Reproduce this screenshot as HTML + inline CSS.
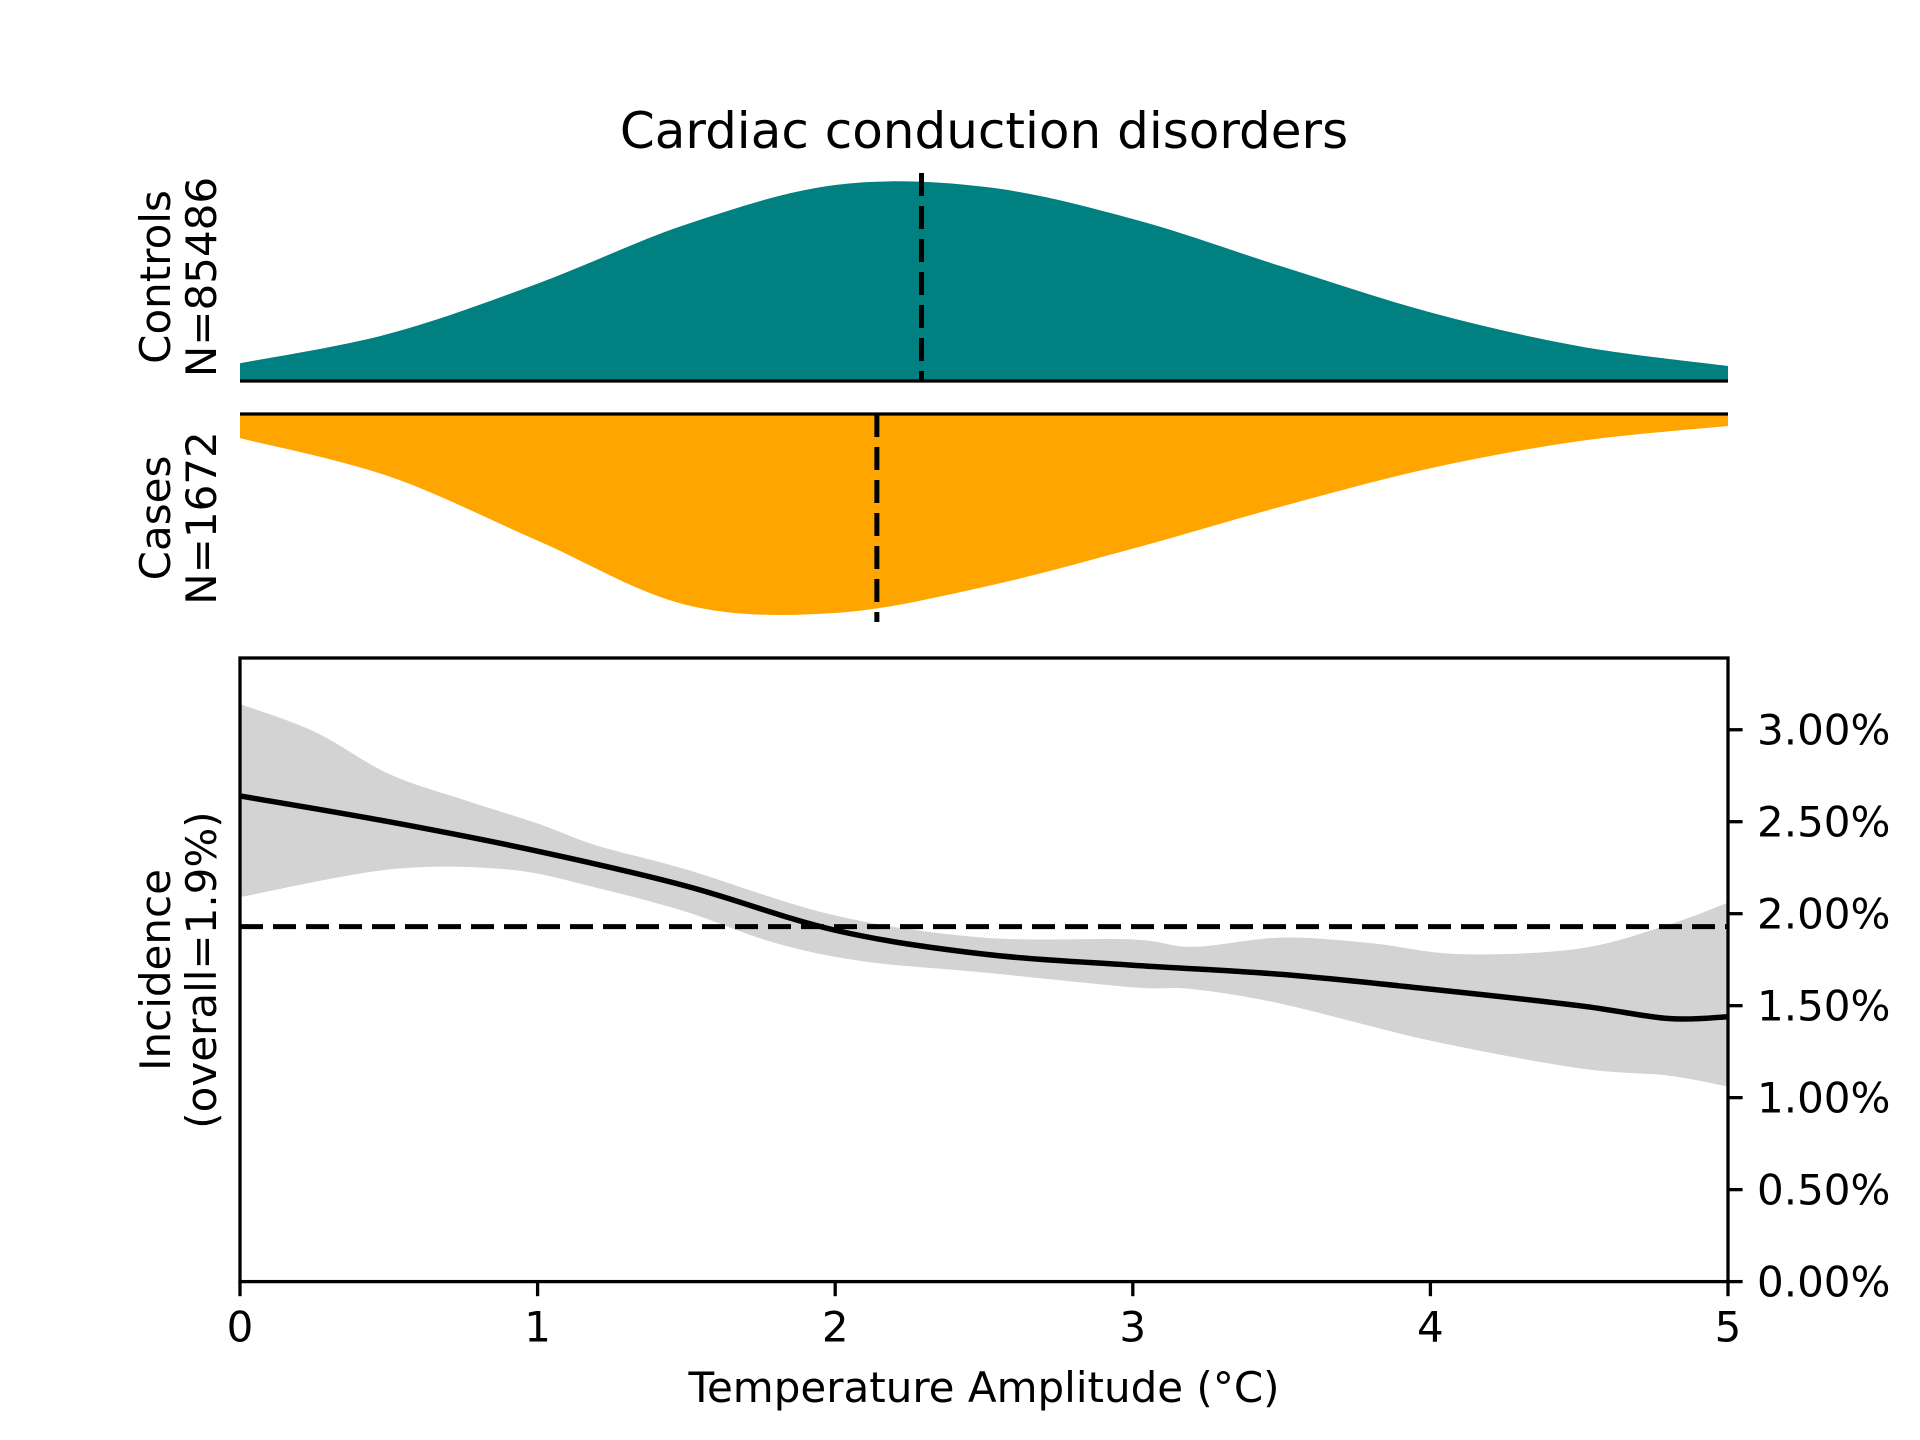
<!DOCTYPE html>
<html><head><meta charset="utf-8"><style>
html,body{margin:0;padding:0;background:#fff;}
svg{display:block;font-family:"DejaVu Sans","Liberation Sans",sans-serif;}
</style></head><body>
<svg id="fig" width="1920" height="1440" viewBox="0 0 1920 1440">
<rect width="1920" height="1440" fill="#fff"/>
<text x="984" y="148" font-size="50" text-anchor="middle">Cardiac conduction disorders</text>
<g id="gtop"></g>
<g id="gmid"></g>
<g id="gbot"></g>
<text transform="translate(170,277) rotate(-90)" font-size="42" text-anchor="middle">Controls</text>
<text transform="translate(216,277) rotate(-90)" font-size="42" text-anchor="middle">N=85486</text>
<text transform="translate(170,518) rotate(-90)" font-size="42" text-anchor="middle">Cases</text>
<text transform="translate(216,518) rotate(-90)" font-size="42" text-anchor="middle">N=1672</text>
<text transform="translate(170,970) rotate(-90)" font-size="42" text-anchor="middle">Incidence</text>
<text transform="translate(216,970) rotate(-90)" font-size="42" text-anchor="middle">(overall=1.9%)</text>
<text x="984" y="1402" font-size="42" text-anchor="middle">Temperature Amplitude (°C)</text>
</svg>
<script>
const densX = [0,0.5,1,1.5,2,2.5,3,3.5,4,4.5,5];
const controlsDens = [0.089,0.236,0.487,0.783,0.980,0.971,0.810,0.573,0.343,0.174,0.075];
const casesDens = [0.12,0.31,0.63,0.95,0.99,0.86,0.67,0.46,0.27,0.135,0.06];
const controlsMean = 2.29;
const casesMean = 2.14;
const lineX = [0,0.5,1,1.5,2,2.5,3,3.5,4,4.5,4.8,5];
const lineY = [2.64,2.50,2.34,2.15,1.91,1.78,1.72,1.67,1.59,1.50,1.43,1.44];
const upX = [0,0.25,0.5,0.75,1.0,1.2,1.5,2,2.5,3,3.2,3.5,3.8,4.1,4.5,4.8,5];
const upY = [3.14,2.99,2.76,2.62,2.49,2.37,2.24,1.99,1.87,1.86,1.82,1.87,1.84,1.78,1.81,1.94,2.06];
const loX = [0,0.5,0.9,1.2,1.5,1.8,2.1,2.5,3,3.2,3.5,4,4.5,4.8,5];
const loY = [2.09,2.24,2.24,2.14,2.01,1.84,1.74,1.68,1.60,1.59,1.51,1.31,1.16,1.12,1.06];
const overall = 1.93;
const yTicks = [0,0.5,1,1.5,2,2.5,3];
const yTickLabels = ["0.00%","0.50%","1.00%","1.50%","2.00%","2.50%","3.00%"];
const xTicks = [0,1,2,3,4,5];
const xTickLabels = ["0","1","2","3","4","5"];

const NS='http://www.w3.org/2000/svg';
const L=240,R=1728;
const sx=v=>L+(v/5)*(R-L);
const topBase=381, topTop=181;
const midBase=414, midBot=615;
const botT=658, botB=1281.6, yMax=3.39;
const sy=v=>botB-(v/yMax)*(botB-botT);
function mk(tag,attrs,parent){const e=document.createElementNS(NS,tag);for(const k in attrs)e.setAttribute(k,attrs[k]);parent.appendChild(e);return e;}
function smooth(pts){let d='M'+pts[0][0]+','+pts[0][1];for(let i=0;i<pts.length-1;i++){const p0=pts[Math.max(0,i-1)],p1=pts[i],p2=pts[i+1],p3=pts[Math.min(pts.length-1,i+2)];
const c1=[p1[0]+(p2[0]-p0[0])/6,p1[1]+(p2[1]-p0[1])/6],c2=[p2[0]-(p3[0]-p1[0])/6,p2[1]-(p3[1]-p1[1])/6];
d+=' C'+c1[0]+','+c1[1]+' '+c2[0]+','+c2[1]+' '+p2[0]+','+p2[1];}return d;}
const gTop=document.getElementById('gtop'),gMid=document.getElementById('gmid'),gBot=document.getElementById('gbot');
const cp=densX.map((x,i)=>[sx(x),topBase-controlsDens[i]*(topBase-topTop)]);
let e=mk('path',{d:smooth(cp)+' L'+sx(5)+','+topBase+' L'+sx(0)+','+topBase+' Z',fill:'#008080'},gTop);


e=mk('line',{x1:L,x2:R,y1:topBase,y2:topBase,stroke:'#000','stroke-width':3.3},gTop);


e=mk('line',{x1:sx(controlsMean),x2:sx(controlsMean),y1:173,y2:topBase,stroke:'#000','stroke-width':5,'stroke-dasharray':'23,10'},gTop);


const kp=densX.map((x,i)=>[sx(x),midBase+casesDens[i]*(midBot-midBase)]);
e=mk('path',{d:smooth(kp)+' L'+sx(5)+','+midBase+' L'+sx(0)+','+midBase+' Z',fill:'#FFA500'},gMid);


e=mk('line',{x1:L,x2:R,y1:midBase,y2:midBase,stroke:'#000','stroke-width':3.3},gMid);


e=mk('line',{x1:sx(casesMean),x2:sx(casesMean),y1:midBase,y2:622,stroke:'#000','stroke-width':5,'stroke-dasharray':'23,10'},gMid);


const up=upX.map((x,i)=>[sx(x),sy(upY[i])]);
const lo=loX.map((x,i)=>[sx(x),sy(loY[i])]).reverse();
const loPath=smooth(lo).replace(/^M/,' L');
e=mk('path',{d:smooth(up)+loPath+' Z',fill:'#d3d3d3'},gBot);


e=mk('line',{x1:L,x2:R,y1:sy(overall),y2:sy(overall),stroke:'#000','stroke-width':5,'stroke-dasharray':'23,10'},gBot);


e=mk('path',{d:smooth(lineX.map((x,i)=>[sx(x),sy(lineY[i])])),fill:'none',stroke:'#000','stroke-width':5.5},gBot);


e=mk('rect',{x:L,y:botT,width:R-L,height:botB-botT,fill:'none',stroke:'#000','stroke-width':3.3},gBot);


yTicks.forEach((v,i)=>{
  const t=mk('line',{x1:R,x2:R+14.6,y1:sy(v),y2:sy(v),stroke:'#000','stroke-width':3.3},gBot);
  
  
  const tx=mk('text',{x:R+29,y:sy(v)+15,'font-size':42},gBot);tx.textContent=yTickLabels[i];
  
  
});
xTicks.forEach((v,i)=>{
  const t=mk('line',{x1:sx(v),x2:sx(v),y1:botB,y2:botB+14.6,stroke:'#000','stroke-width':3.3},gBot);
  
  
  const tx=mk('text',{x:sx(v),y:botB+60,'font-size':42,'text-anchor':'middle'},gBot);tx.textContent=xTickLabels[i];
  
  
});
</script>
</body></html>
